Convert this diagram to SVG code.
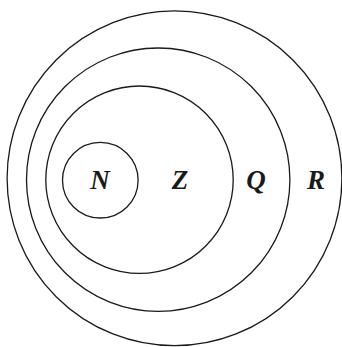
<svg xmlns="http://www.w3.org/2000/svg" width="342" height="347" viewBox="0 0 342 347">
<style>
.set{fill:none;stroke:#1a1a1a;stroke-width:1.3}
.lbl{font-family:"Liberation Serif","Times New Roman",serif;font-weight:bold;font-style:italic;font-size:27px;fill:#1a1a1a;text-anchor:middle}
</style>
<rect width="342" height="347" fill="#fff"/>
<g id="R"><circle class="set" cx="174.5" cy="178.3" r="167.4"/><text class="lbl" x="316" y="189">R</text></g>
<g id="Q"><circle class="set" cx="158.2" cy="179.7" r="131.7"/><text class="lbl" x="256" y="189">Q</text></g>
<g id="Z"><circle class="set" cx="139.5" cy="179.7" r="93.7"/><text class="lbl" x="180" y="189">Z</text></g>
<g id="N"><circle class="set" cx="100.3" cy="180.2" r="37.8"/><text class="lbl" x="100" y="189">N</text></g>
<g id="connectors"/>
</svg>
